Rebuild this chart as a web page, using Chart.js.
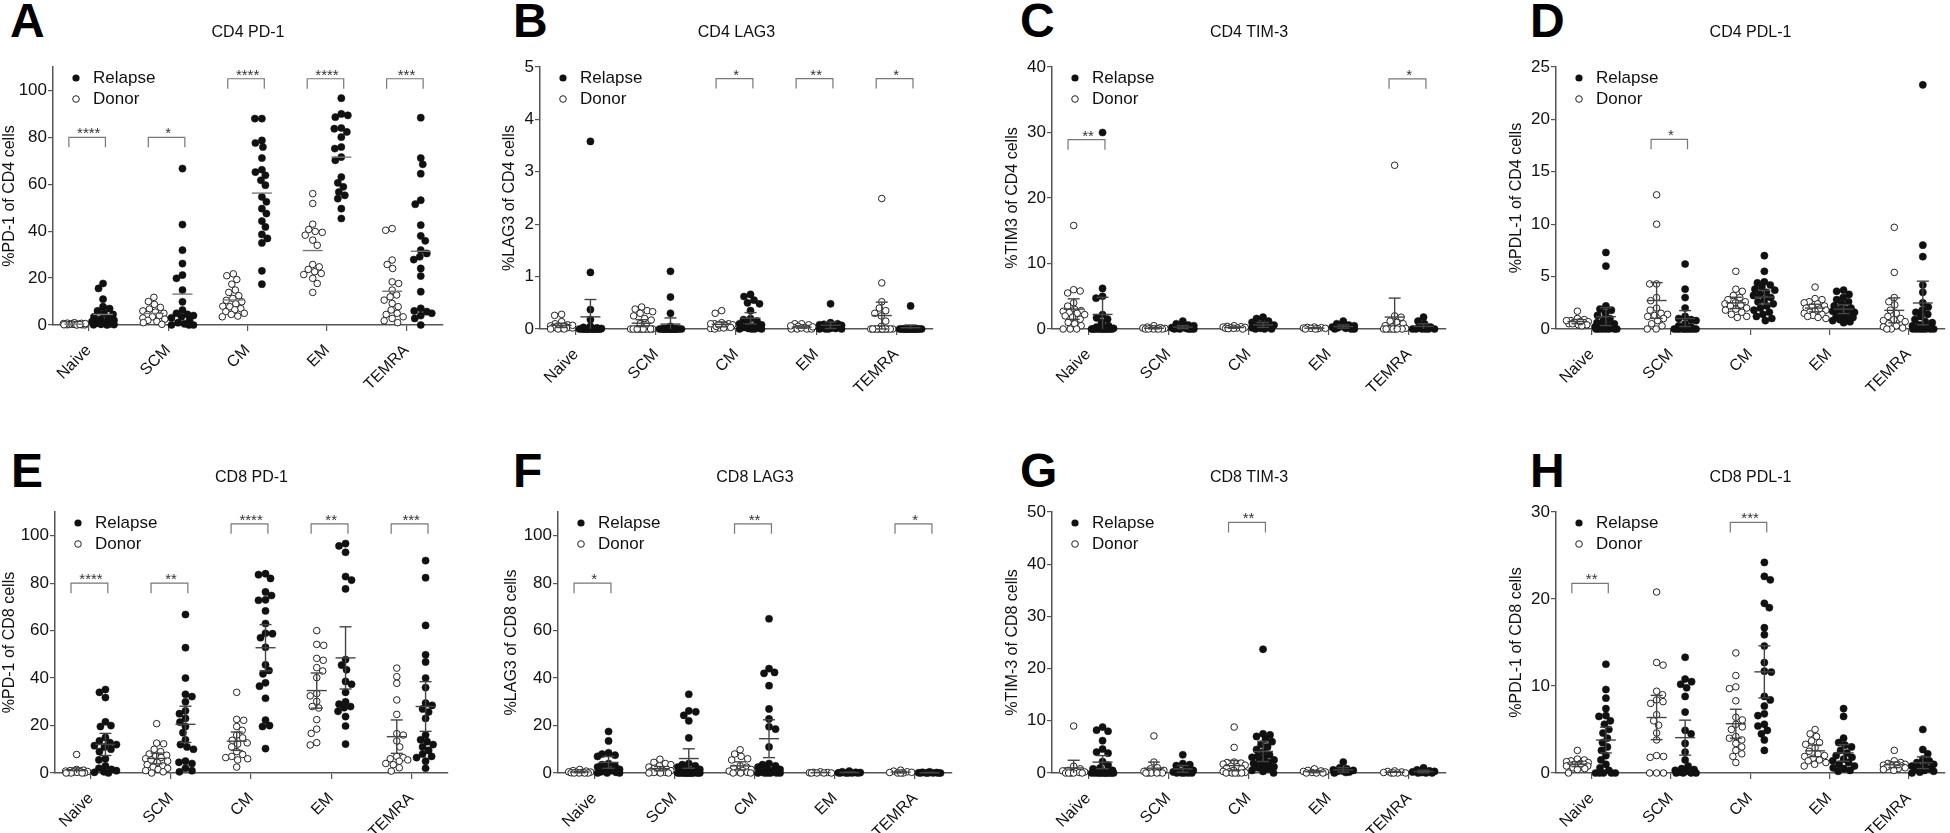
<!DOCTYPE html>
<html>
<head>
<meta charset="utf-8">
<script src="https://cdn.jsdelivr.net/npm/chart.js@4.4.1/dist/chart.umd.min.js"></script>
<style>
  body { margin: 0; background: #fff; width: 1950px; height: 833px; position: relative; overflow: hidden; }
  .letter { position: absolute; font: bold 48px "Liberation Sans", Arial, sans-serif; line-height: 48px; color: #000; }
</style>
</head>
<body>
<div class="letter" style="left:10px;top:-3px">A</div>
<div class="letter" style="left:513px;top:-3px">B</div>
<div class="letter" style="left:1020px;top:-3px">C</div>
<div class="letter" style="left:1530px;top:-3px">D</div>
<div class="letter" style="left:11px;top:447px">E</div>
<div class="letter" style="left:513px;top:447px">F</div>
<div class="letter" style="left:1020px;top:447px">G</div>
<div class="letter" style="left:1530px;top:447px">H</div>
<script>
const categories = ["Naive", "SCM", "CM", "EM", "TEMRA"];

// y tick values
const ticksPct = [0, 20, 40, 60, 80, 100];
const ticksCd4Lag3 = [0, 1, 2, 3, 4, 5];
const ticksCd4Tim3 = [0, 10, 20, 30, 40];
const ticksCd4Pdl1 = [0, 5, 10, 15, 20, 25];
const ticksCd8Tim3 = [0, 10, 20, 30, 40, 50];
const ticksCd8Pdl1 = [0, 10, 20, 30];

// A - CD4 PD-1
const cd4Pd1Donor = [
  [1.0, 0.8, 0.6, 0.5, 0.4, 0.3, 0.3, 0.2, 0.2, 0.1, 0.1, 0.05, 0, 0.7, 0.4, 0.6, 0.2, 0.1],
  [11.8, 10, 8.8, 7.5, 6.8, 6, 5.5, 5, 4.5, 4, 3.5, 3, 2.5, 2, 1.5, 1, 0.3],
  [21.8, 21, 19.4, 17.4, 14.9, 13.9, 12.5, 11.3, 10.5, 9.9, 9, 8, 7.8, 7, 6.5, 5.7, 5, 4.5, 3.8, 3.5],
  [56, 51.8, 43, 40.7, 39.9, 39.5, 38.3, 36.2, 34, 25.8, 24.8, 23.7, 22.7, 22, 21.5, 19.9, 17.7, 13.9],
  [41.1, 40.4, 27.7, 25.8, 24.1, 18.4, 17.7, 14.9, 12.8, 12, 10.6, 9.2, 7.8, 6.4, 5, 4.5, 3.5, 2.8, 1.8, 1]
];
const cd4Pd1Relapse = [
  [17.7, 15.6, 11, 7.8, 7, 6, 5, 4.5, 3.5, 3, 2.5, 2, 1.5, 1, 0.8, 0.5, 0.3, 0.2, 0.1, 0],
  [66.7, 42.8, 31.9, 26.2, 21.3, 19.9, 14.9, 9.9, 6.4, 5, 4.5, 4, 3.5, 3, 2, 1, 0.5, 0, 0, 0],
  [88, 88, 78.7, 77.6, 75.9, 71.2, 66.2, 65.2, 63.8, 61.7, 59.6, 54.6, 52.5, 49.6, 47.5, 44.3, 41.8, 38.6, 36.9, 35, 23.1, 17.4],
  [96.7, 90, 89.4, 88.6, 84, 83.7, 82.3, 80.1, 75.9, 75.2, 71.6, 70.2, 63.1, 60.6, 58.9, 56.7, 55.3, 53.9, 49.6, 45.4],
  [88.4, 71.2, 68.5, 64.5, 53.2, 51.5, 42.6, 38, 35.9, 31.9, 30.5, 29.1, 27.9, 24.1, 20.9, 14.2, 7.1, 6, 5.7, 5, 4, 2.8, 0]
];
const cd4Pd1Sig = [[0, 80, "****"], [1, 80, "*"], [2, 105, "****"], [3, 105, "****"], [4, 105, "***"]];

// B - CD4 LAG3
const cd4Lag3Donor = [
  [0.28, 0.26, 0.14, 0.1, 0.08, 0.06, 0.05, 0.05, 0.04, 0.03, 0.03, 0.02, 0.02, 0.01, 0, 0, 0, 0.07],
  [0.42, 0.38, 0.35, 0.33, 0.3, 0.25, 0.2, 0.17, 0.1, 0.05, 0, 0, 0, 0, 0, 0, 0, 0, 0, 0, 0, 0, 0],
  [0.35, 0.3, 0.12, 0.1, 0.1, 0.08, 0.07, 0.06, 0.05, 0.04, 0.03, 0.02, 0.02, 0.01, 0, 0.05, 0.08, 0.1],
  [0.1, 0.1, 0.08, 0.05, 0.03, 0.02, 0.01, 0, 0, 0, 0, 0.02, 0.04, 0.06],
  [2.49, 0.88, 0.52, 0.4, 0.35, 0.3, 0.25, 0.15, 0.05, 0, 0, 0, 0, 0, 0, 0, 0, 0, 0, 0, 0]
];
const cd4Lag3Relapse = [
  [3.58, 1.08, 0.37, 0.18, 0.05, 0.03, 0.02, 0.01, 0, 0, 0, 0, 0, 0, 0, 0, 0, 0, 0, 0, 0, 0, 0],
  [1.1, 0.61, 0.3, 0.05, 0, 0, 0, 0, 0, 0, 0, 0, 0, 0, 0, 0, 0, 0, 0, 0, 0, 0],
  [0.66, 0.62, 0.55, 0.5, 0.48, 0.35, 0.2, 0.18, 0.15, 0.12, 0.1, 0.08, 0.05, 0.03, 0.02, 0.01, 0, 0, 0, 0],
  [0.48, 0.12, 0.1, 0.09, 0.08, 0.07, 0.06, 0.05, 0.04, 0.03, 0.02, 0.01, 0, 0, 0, 0],
  [0.44, 0, 0, 0, 0, 0, 0, 0, 0, 0, 0, 0, 0, 0, 0, 0, 0, 0]
];
const cd4Lag3Sig = [[2, 4.78, "*"], [3, 4.78, "**"], [4, 4.78, "*"]];

// C - CD4 TIM-3
const cd4Tim3Donor = [
  [15.8, 6, 5.8, 5.5, 4, 3.5, 3, 2.8, 2.7, 2.5, 2.4, 2.2, 2, 1.8, 1.5, 1, 0.8, 0.5, 0, 0, 0],
  [0.5, 0.3, 0.2, 0.15, 0.1, 0.1, 0.05, 0, 0, 0, 0, 0],
  [0.5, 0.4, 0.35, 0.3, 0.25, 0.2, 0.15, 0.1, 0.1, 0.05, 0],
  [0.3, 0.25, 0.2, 0.15, 0.1, 0.1, 0.05, 0, 0],
  [25, 2, 1.8, 1.2, 1, 0.8, 0.5, 0.3, 0.2, 0.1, 0, 0, 0, 0, 0, 0, 0, 0]
];
const cd4Tim3Relapse = [
  [30, 6.2, 5, 4.7, 2.2, 1.7, 1.5, 1, 0.5, 0.3, 0.2, 0.1, 0, 0, 0, 0, 0, 0, 0, 0, 0, 0, 0, 0],
  [1.2, 0.8, 0.6, 0.5, 0.3, 0.2, 0.1, 0.1, 0, 0, 0, 0, 0],
  [1.8, 1.6, 1.2, 1, 0.8, 0.6, 0.5, 0.3, 0.2, 0.1, 0, 0, 0],
  [1.2, 0.8, 0.6, 0.5, 0.4, 0.3, 0.2, 0.1, 0, 0, 0],
  [1.8, 1.2, 0.8, 0.3, 0.2, 0, 0, 0, 0, 0, 0]
];
const cd4Tim3Sig = [[0, 28.9, "**"], [4, 38.2, "*"]];

// D - CD4 PDL-1
const cd4Pdl1Donor = [
  [1.7, 1, 0.9, 0.8, 0.7, 0.6, 0.6, 0.5, 0.5, 0.4, 0.4, 0.3, 0.7, 0.8],
  [12.8, 10, 4.3, 4.3, 3, 2.7, 2, 1.5, 1.4, 1.3, 1.2, 1, 0.8, 0.5, 0.3, 0, 0, 1.8],
  [5.5, 3.8, 3.6, 3.2, 3, 2.8, 2.6, 2.5, 2.4, 2.3, 2.2, 2, 1.9, 1.8, 1.6, 1.4, 1.2, 1.1],
  [4, 2.9, 2.8, 2.6, 2.5, 2.4, 2.2, 2.1, 2, 1.9, 1.8, 1.7, 1.6, 1.5, 1.4, 1.3, 1.2, 1.1, 1],
  [9.7, 5.4, 3, 2.6, 2.3, 1.8, 1.5, 1.2, 1, 0.9, 0.8, 0.7, 0.5, 0.3, 0.2, 0.1, 0, 0]
];
const cd4Pdl1Relapse = [
  [7.3, 6, 2.2, 1.9, 1.8, 1.5, 1.3, 1, 0.8, 0.6, 0.5, 0.4, 0.3, 0.2, 0.1, 0, 0, 0, 0, 0, 0, 0],
  [6.2, 3.8, 3, 2, 1.2, 1, 0.9, 0.8, 0.5, 0.3, 0.2, 0, 0, 0, 0, 0, 0, 0, 0, 0],
  [7, 5.5, 4.5, 4.4, 4.2, 4, 3.8, 3.7, 3.5, 3.3, 3.2, 3, 2.8, 2.6, 2.4, 2.2, 2, 1.8, 1.6, 1.4, 1.2, 1, 0.8],
  [3.7, 3.6, 3.3, 3, 2.8, 2.6, 2.4, 2.2, 2, 1.9, 1.8, 1.7, 1.6, 1.4, 1.3, 1.2, 1.1, 1, 0.9, 0.8, 0.7, 0.6],
  [23.3, 8, 6.9, 4.2, 3.5, 2.5, 2.1, 1.8, 1.6, 1.4, 1.2, 0.9, 0.7, 0.6, 0.4, 0.3, 0.2, 0, 0, 0, 0, 0, 0, 0]
];
const cd4Pdl1Sig = [[1, 18.1, "*"]];

// E - CD8 PD-1
const cd8Pd1Donor = [
  [7.8, 1.5, 1.2, 1, 0.8, 0.6, 0.5, 0.4, 0.3, 0.2, 0.1, 0, 0, 0],
  [20.8, 12.6, 12.3, 10, 9, 8, 7.5, 7, 6.5, 6, 5.5, 5, 4.5, 3.5, 3, 2.5, 2, 1.5, 1, 0.5, 0],
  [34, 22.6, 22.2, 19.6, 18, 16, 14.8, 13.8, 12.7, 12.2, 11, 9, 7.8, 7, 6.5, 6, 5.5, 2.5],
  [60, 54.2, 53.8, 48.3, 47.5, 44.4, 43, 40.2, 33.5, 32.5, 30.2, 28, 27.4, 22.5, 18.5, 16.7, 12.8, 11.8],
  [44.2, 40.6, 37.8, 30.8, 24.7, 16.6, 16, 13.5, 11, 7, 6.5, 6, 5.5, 5, 4, 3.5, 2.2, 0.8]
];
const cd8Pd1Relapse = [
  [35.2, 34, 31.8, 21.6, 20, 19.6, 15, 13.5, 12.8, 12, 11.5, 11, 10, 9, 6, 5.5, 3, 2, 1.5, 1, 0.5, 0.3, 0],
  [66.8, 52.8, 40, 33.2, 32.2, 30, 26.2, 25, 23, 21.4, 19.6, 17, 14, 12, 11, 10, 5, 4.5, 4, 2, 1, 0.5],
  [84, 83.6, 82, 76.3, 74.8, 73, 72.8, 68.3, 63, 58.9, 58.7, 57, 53, 45.6, 43.2, 41.8, 38, 36.6, 31.5, 22.3, 20, 19.6, 10.3],
  [96.7, 95.7, 93, 82.8, 81.3, 77.6, 47.8, 45.5, 43.5, 38.6, 37.4, 34, 30, 29, 28, 27.5, 26, 23.8, 19.8, 12.2],
  [89.5, 82.3, 62.2, 49.8, 46.8, 40, 36, 29.5, 28.5, 27, 25.7, 23, 16, 14, 13.2, 12, 11, 9.5, 8, 7, 6.5, 5, 2]
];
const cd8Pd1Sig = [[0, 80, "****"], [1, 80, "**"], [2, 105, "****"], [3, 105, "**"], [4, 105, "***"]];

// F - CD8 LAG3
const cd8Lag3Donor = [
  [1.5, 1, 0.8, 0.5, 0.4, 0.3, 0.2, 0.1, 0, 0, 0, 0],
  [5.8, 4.5, 4, 3.5, 3, 2.5, 2, 1.5, 1.2, 1, 0.8, 0.5, 0.3, 0.2, 0, 0, 0],
  [9.8, 8, 7, 6, 5.5, 3, 2.5, 2, 1.5, 1, 0.8, 0.5, 0.3, 0, 0, 0],
  [0.5, 0.3, 0.2, 0.1, 0, 0, 0, 0],
  [1.2, 0.8, 0.5, 0.3, 0.2, 0, 0, 0]
];
const cd8Lag3Relapse = [
  [17.5, 13.5, 8.5, 8, 7.5, 7, 4, 3.5, 3, 2.5, 2, 1.5, 1, 0.5, 0.3, 0, 0, 0],
  [33.2, 26.2, 25.8, 24.3, 22, 14.8, 4, 3.5, 3, 2.5, 2, 1.5, 1, 0.5, 0.2, 0, 0, 0, 0, 0, 0, 0, 0, 0, 0, 0, 0],
  [65, 44, 42.4, 42, 36.8, 27, 22.8, 19.5, 18.5, 11, 4, 3.5, 3, 2.5, 2, 1.5, 1, 0.5, 0, 0, 0, 0, 0, 0],
  [0.8, 0.5, 0.3, 0.2, 0.1, 0, 0, 0, 0, 0],
  [0.5, 0.3, 0.2, 0.1, 0, 0, 0, 0, 0, 0]
];
const cd8Lag3Sig = [[0, 80, "*"], [2, 105, "**"], [4, 105, "*"]];

// G - CD8 TIM-3
const cd8Tim3Donor = [
  [9, 1.3, 0.8, 0.5, 0.4, 0.3, 0.2, 0.1, 0, 0, 0, 0, 0],
  [7.1, 2.1, 1, 0.8, 0.5, 0.3, 0.2, 0.1, 0, 0, 0, 0, 0],
  [8.8, 4.9, 2.1, 2, 1.9, 1.7, 1.5, 1.3, 1.2, 1, 0.8, 0.5, 0.3, 0.2, 0.1, 0, 0, 0, 0, 0],
  [0.8, 0.5, 0.4, 0.3, 0.2, 0.1, 0, 0, 0],
  [0.4, 0.3, 0.2, 0.1, 0, 0, 0, 0]
];
const cd8Tim3Relapse = [
  [8.8, 8.2, 8, 6.2, 4.6, 4, 3.8, 2.2, 1.5, 1, 0.8, 0.5, 0.3, 0, 0, 0, 0, 0, 0, 0, 0, 0, 0, 0],
  [3.5, 1.8, 1.6, 1.4, 1, 0.5, 0.3, 0.2, 0, 0, 0, 0, 0],
  [23.7, 7.5, 7.3, 7, 6.5, 6, 5.5, 5, 4.5, 4, 3.5, 3.2, 3, 2.8, 2.5, 2.2, 2, 1.8, 1.5, 1.2, 1, 0.8, 0.5, 0.3, 0],
  [2.1, 1, 0.8, 0.6, 0.5, 0.4, 0.3, 0.2, 0.1, 0],
  [1, 0.6, 0.4, 0.3, 0.2, 0.1, 0, 0, 0]
];
const cd8Tim3Sig = [[2, 48, "**"]];

// H - CD8 PDL-1
const cd8Pdl1Donor = [
  [2.6, 1.6, 1.5, 1.4, 1.3, 1.2, 1.1, 1, 1, 0.9, 0.9, 0.8, 0.8, 0.7, 0.6, 0.5, 0.4, 0],
  [20.8, 12.7, 12.4, 9.4, 9, 8.4, 8.2, 8, 6.7, 6, 5.5, 4.6, 3.8, 2, 1.9, 1.8, 0, 0, 0],
  [13.8, 11.2, 9.9, 9.7, 8.3, 6.4, 6.1, 5.6, 5.3, 5, 4.2, 4, 3.8, 3.4, 3, 2.6, 2.2, 1.9, 1.2],
  [5, 4.5, 4.2, 3.7, 3.5, 3.3, 2.9, 2.5, 2.2, 2, 1.9, 1.7, 1.5, 1.4, 1.2, 1, 0.8],
  [2.6, 1.4, 1.2, 1.1, 1, 0.9, 0.9, 0.8, 0.8, 0.7, 0.6, 0.5, 0.4, 0.3]
];
const cd8Pdl1Relapse = [
  [12.5, 9.6, 8.6, 7.4, 6.6, 6.5, 6, 5.6, 5, 4.6, 4, 3.5, 3, 2.6, 2, 1.5, 1, 0.6, 0.3, 0, 0, 0, 0, 0],
  [13.3, 10.8, 10.5, 10.2, 9.8, 8.8, 7, 4.9, 4.5, 3.4, 2.4, 1.5, 0.8, 0.5, 0.4, 0.3, 0.2, 0.1, 0, 0, 0, 0],
  [24.2, 22.6, 22.2, 19.5, 19, 16.7, 15.9, 14.6, 12.7, 11.7, 11.6, 8.8, 8.4, 7.7, 6.8, 6.6, 5.6, 5.4, 4.9, 4.5, 3.8, 2.6],
  [7.4, 6.5, 4, 3.5, 3.2, 3, 2.6, 2.3, 2, 1.8, 1.6, 1.4, 1.2, 1, 0.8, 0.6, 0.5, 0.3, 0.2],
  [5, 2.7, 2.2, 1.6, 1.4, 1.2, 1, 0.9, 0.8, 0.6, 0.5, 0.4, 0.3, 0.2, 0.1, 0]
];
const cd8Pdl1Sig = [[0, 21.8, "**"], [2, 28.8, "***"]];

const FAMILY = '"Liberation Sans", Arial, sans-serif';
Chart.defaults.font.family = FAMILY;

const X_MIN = -0.45, X_MAX = 4.46;
const DONOR_OFF = -0.18, RELAPSE_OFF = 0.18;

// layout of the 8 panels
const panels = [
  { title: "CD4 PD-1", yLabel: "%PD-1 of CD4 cells", donor: cd4Pd1Donor, relapse: cd4Pd1Relapse, sig: cd4Pd1Sig, yMax: 110, yTicks: ticksPct, err: false,
    left: 0, top: 0, width: 460, height: 410, padLeft: 0, axisX: 53, axisEnd: 443, plotTop: 67, plotBottom: 325 },
  { title: "CD4 LAG3", yLabel: "%LAG3 of CD4 cells", donor: cd4Lag3Donor, relapse: cd4Lag3Relapse, sig: cd4Lag3Sig, yMax: 5, yTicks: ticksCd4Lag3, err: true,
    left: 490, top: 0, width: 460, height: 410, padLeft: 10, axisX: 540, axisEnd: 933, plotTop: 67, plotBottom: 329 },
  { title: "CD4 TIM-3", yLabel: "%TIM3 of CD4 cells", donor: cd4Tim3Donor, relapse: cd4Tim3Relapse, sig: cd4Tim3Sig, yMax: 40, yTicks: ticksCd4Tim3, err: true,
    left: 975, top: 0, width: 480, height: 410, padLeft: 28, axisX: 1052, axisEnd: 1446, plotTop: 67, plotBottom: 329 },
  { title: "CD4 PDL-1", yLabel: "%PDL-1 of CD4 cells", donor: cd4Pdl1Donor, relapse: cd4Pdl1Relapse, sig: cd4Pdl1Sig, yMax: 25, yTicks: ticksCd4Pdl1, err: true,
    left: 1460, top: 0, width: 490, height: 410, padLeft: 47, axisX: 1556, axisEnd: 1949, plotTop: 67, plotBottom: 329 },
  { title: "CD8 PD-1", yLabel: "%PD-1 of CD8 cells", donor: cd8Pd1Donor, relapse: cd8Pd1Relapse, sig: cd8Pd1Sig, yMax: 110, yTicks: ticksPct, err: true,
    left: 0, top: 445, width: 460, height: 388, padLeft: 0, axisX: 55, axisEnd: 448, plotTop: 67, plotBottom: 328 },
  { title: "CD8 LAG3", yLabel: "%LAG3 of CD8 cells", donor: cd8Lag3Donor, relapse: cd8Lag3Relapse, sig: cd8Lag3Sig, yMax: 110, yTicks: ticksPct, err: true,
    left: 490, top: 445, width: 470, height: 388, padLeft: 12, axisX: 558, axisEnd: 952, plotTop: 67, plotBottom: 328 },
  { title: "CD8 TIM-3", yLabel: "%TIM-3 of CD8 cells", donor: cd8Tim3Donor, relapse: cd8Tim3Relapse, sig: cd8Tim3Sig, yMax: 50, yTicks: ticksCd8Tim3, err: true,
    left: 975, top: 445, width: 480, height: 388, padLeft: 28, axisX: 1052, axisEnd: 1446, plotTop: 67, plotBottom: 328 },
  { title: "CD8 PDL-1", yLabel: "%PDL-1 of CD8 cells", donor: cd8Pdl1Donor, relapse: cd8Pdl1Relapse, sig: cd8Pdl1Sig, yMax: 30, yTicks: ticksCd8Pdl1, err: true,
    left: 1460, top: 445, width: 490, height: 388, padLeft: 47, axisX: 1556, axisEnd: 1949, plotTop: 67, plotBottom: 328 }
];

// spread points sideways like a column scatter (offsets in pixels -> group units)
function swarm(vals, pxX, pxY) {
  const minDist = 6.6, maxOff = 11;
  const placed = [];
  const offs = new Array(vals.length).fill(0);
  const order = vals.map((v, i) => i).sort((a, b) => vals[b] - vals[a]);
  order.forEach((i, n) => {
    const yp = vals[i] * pxY;
    let bestX = 0, bestScore = -1, done = false;
    for (let k = 0; k <= maxOff && !done; k += 0.5) {
      const signs = k === 0 ? [1] : (n % 2 ? [-1, 1] : [1, -1]);
      for (const s of signs) {
        const xp = s * k;
        let minD = Infinity;
        for (const q of placed) {
          const dd = Math.hypot(q.x - xp, q.y - yp);
          if (dd < minD) minD = dd;
        }
        if (minD >= minDist) { bestX = xp; done = true; break; }
        if (minD > bestScore) { bestScore = minD; bestX = xp; }
      }
    }
    placed.push({ x: bestX, y: yp });
    offs[i] = bestX / pxX;
  });
  return offs;
}

function toPoints(groups, off, pxX, pxY) {
  const pts = [];
  groups.forEach((vals, g) => {
    const offs = swarm(vals, pxX, pxY);
    vals.forEach((v, i) => pts.push({ x: g + off + offs[i], y: v }));
  });
  return pts;
}

const mean = a => a.reduce((s, v) => s + v, 0) / a.length;
function ci95(a) {
  const m = mean(a);
  const sd = Math.sqrt(a.reduce((s, v) => s + (v - m) * (v - m), 0) / (a.length - 1));
  const df = a.length - 1;
  return (1.96 + 2.5 / df) * sd / Math.sqrt(a.length);
}

// title, legend, mean/CI bars and significance brackets
const panelMarks = {
  id: "panelMarks",
  afterDatasetsDraw(chart, args, opts) {
    const { ctx, chartArea: a, scales: { x, y } } = chart;
    ctx.save();
    ctx.fillStyle = "#111";
    ctx.font = "16px " + FAMILY;
    ctx.textAlign = "center";
    ctx.textBaseline = "middle";
    ctx.fillText(opts.title, (a.left + a.right) / 2, 33);

    // legend
    const lx = a.left + 23;
    ctx.beginPath(); ctx.arc(lx, a.top + 11, 3.6, 0, Math.PI * 2); ctx.fill();
    ctx.beginPath(); ctx.arc(lx, a.top + 32, 3.3, 0, Math.PI * 2);
    ctx.strokeStyle = "#222"; ctx.lineWidth = 1; ctx.stroke();
    ctx.font = "17px " + FAMILY;
    ctx.textAlign = "left";
    ctx.fillText("Relapse", lx + 17, a.top + 11);
    ctx.fillText("Donor", lx + 17, a.top + 32);

    // mean and 95% CI
    ctx.strokeStyle = opts.err ? "#444" : "#777";
    ctx.lineWidth = 1.4;
    const seg = (x1, y1, x2, y2) => { ctx.beginPath(); ctx.moveTo(x1, y1); ctx.lineTo(x2, y2); ctx.stroke(); };
    [[opts.donor, DONOR_OFF], [opts.relapse, RELAPSE_OFF]].forEach(([groups, off]) => {
      groups.forEach((vals, g) => {
        const m = mean(vals);
        const xp = x.getPixelForValue(g + off);
        const yp = y.getPixelForValue(m);
        seg(xp - 10, yp, xp + 10, yp);
        if (opts.err) {
          const h = ci95(vals);
          const yt = y.getPixelForValue(m + h);
          const yb = y.getPixelForValue(Math.max(0, m - h));
          seg(xp, yt, xp, yb);
          seg(xp - 6, yt, xp + 6, yt);
          if (m - h > 0) seg(xp - 6, yb, xp + 6, yb);
        }
      });
    });

    // brackets
    ctx.strokeStyle = "#777";
    ctx.lineWidth = 1.2;
    ctx.fillStyle = "#333";
    ctx.font = "15px " + FAMILY;
    ctx.textAlign = "center";
    ctx.textBaseline = "alphabetic";
    opts.sig.forEach(([g, v, stars]) => {
      const x1 = x.getPixelForValue(g - 0.25), x2 = x.getPixelForValue(g + 0.21);
      const yp = y.getPixelForValue(v);
      ctx.beginPath();
      ctx.moveTo(x1, yp + 10); ctx.lineTo(x1, yp); ctx.lineTo(x2, yp); ctx.lineTo(x2, yp + 10);
      ctx.stroke();
      ctx.fillText(stars, x.getPixelForValue(g), yp + 1);
    });
    ctx.restore();
  }
};

panels.forEach(p => {
  const cv = document.createElement("canvas");
  cv.width = p.width;
  cv.height = p.height;
  cv.style.cssText = `position:absolute;left:${p.left}px;top:${p.top}px;width:${p.width}px;height:${p.height}px`;
  document.body.appendChild(cv);

  const yAxisW = p.axisX - p.left - p.padLeft;
  const xAxisH = p.height - p.plotBottom;
  const pxX = (p.axisEnd - p.axisX) / (X_MAX - X_MIN);
  const pxY = (p.plotBottom - p.plotTop) / p.yMax;

  new Chart(cv, {
    type: "scatter",
    data: {
      datasets: [
        { label: "Relapse", data: toPoints(p.relapse, RELAPSE_OFF, pxX, pxY), pointRadius: 3.6,
          backgroundColor: "#111", borderColor: "#111", borderWidth: 0.5, clip: false },
        { label: "Donor", data: toPoints(p.donor, DONOR_OFF, pxX, pxY), pointRadius: 3.3,
          backgroundColor: "#fff", borderColor: "#222", borderWidth: 1, clip: false }
      ]
    },
    options: {
      responsive: false,
      animation: false,
      events: [],
      layout: { padding: { left: p.padLeft, top: p.plotTop, right: p.left + p.width - p.axisEnd, bottom: 0 } },
      plugins: {
        legend: { display: false },
        tooltip: { enabled: false },
        panelMarks: { title: p.title, donor: p.donor, relapse: p.relapse, sig: p.sig, err: p.err }
      },
      scales: {
        x: {
          type: "linear", min: X_MIN, max: X_MAX,
          afterBuildTicks: s => { s.ticks = categories.map((c, i) => ({ value: i })); },
          afterFit: s => { s.height = xAxisH; },
          ticks: { autoSkip: false, minRotation: 45, maxRotation: 45, padding: 10, color: "#111",
                   font: { size: 16 }, callback: (v, i) => categories[i] },
          grid: { display: true, drawOnChartArea: false, drawTicks: true, tickLength: 6, color: "#555", lineWidth: 1.2 },
          border: { display: true, color: "#555", width: 1.5 }
        },
        y: {
          min: 0, max: p.yMax,
          afterBuildTicks: s => { s.ticks = p.yTicks.map(v => ({ value: v })); },
          afterFit: s => { s.width = yAxisW; },
          ticks: { padding: 1, color: "#111", font: { size: 17 } },
          grid: { display: true, drawOnChartArea: false, drawTicks: true, tickLength: 5, color: "#555", lineWidth: 1.2 },
          border: { display: true, color: "#555", width: 1.5 },
          title: { display: true, text: p.yLabel, color: "#111", font: { size: 16 }, padding: 0 }
        }
      }
    },
    plugins: [panelMarks]
  });
});
</script>
</body>
</html>
